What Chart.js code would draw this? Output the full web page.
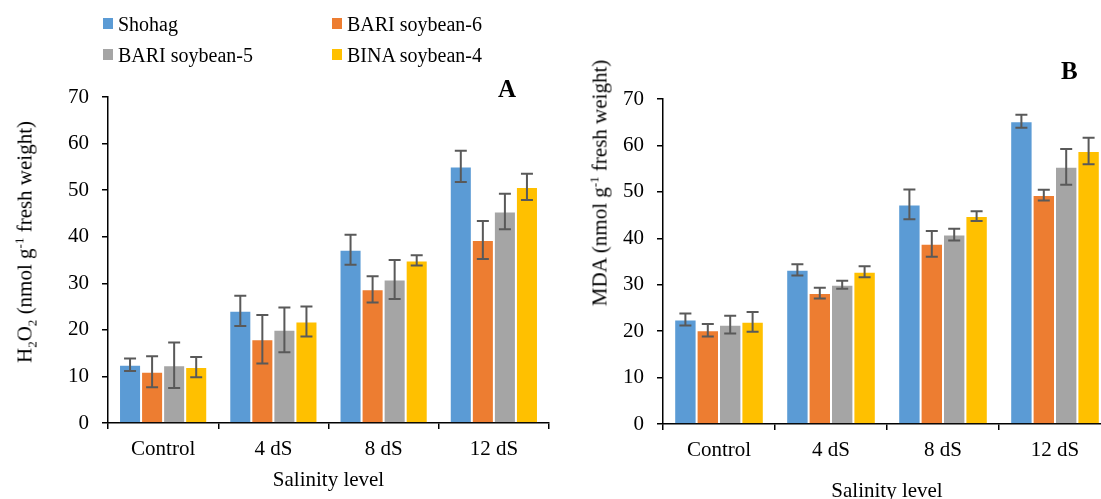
<!DOCTYPE html>
<html>
<head>
<meta charset="utf-8">
<script src="https://cdn.jsdelivr.net/npm/chart.js@4.4.0/dist/chart.umd.min.js"></script>
<style>
  html, body { margin: 0; padding: 0; width: 1101px; height: 499px; overflow: hidden; background: #fff; }
  body { position: relative; font-family: "Liberation Serif", "Times New Roman", serif; color: #000; }
  .panel { position: absolute; top: 0; height: 499px; width: 560px; }
  #panelA { left: 0; }
  #panelB { left: 560px; }
  .ytitle { position: absolute; white-space: nowrap; font-size: 21px; line-height: 21px;
            transform: translate(-50%, -50%) rotate(-90deg); }
  .ytitle sub, .ytitle sup { font-size: 0.62em; line-height: 0; }
  .legend-item { position: absolute; font-size: 20px; line-height: 20px; white-space: nowrap; }
  .legend-box { position: absolute; width: 10px; height: 11px; }
  .tag { position: absolute; font-weight: bold; font-size: 25px; line-height: 25px; }
</style>
</head>
<body>
<div class="panel" id="panelA"><canvas id="chartA"></canvas></div>
<div class="panel" id="panelB"><canvas id="chartB"></canvas></div>
<div id="legend"></div>
<div class="ytitle" style="left:25px; top:242px;">H<sub>2</sub>O<sub>2</sub> (nmol g<sup>-1</sup> fresh weight)</div>
<div class="ytitle" style="left:600px; top:183px;">MDA (nmol g<sup>-1</sup> fresh weight)</div>
<div class="tag" style="left:498px; top:76px;">A</div>
<div class="tag" style="left:1061px; top:58px;">B</div>
<script>
// data
const categories = ['Control', '4 dS', '8 dS', '12 dS'];
const seriesNames = ['Shohag', 'BARI soybean-6', 'BARI soybean-5', 'BINA soybean-4'];
const yTickValues = [0, 10, 20, 30, 40, 50, 60, 70];

// panel A: H2O2
const h2o2Shohag = [12.5, 24.1, 37.2, 55.1];
const h2o2Bari6 = [11.0, 18.0, 28.7, 39.3];
const h2o2Bari5 = [12.4, 20.0, 30.8, 45.4];
const h2o2Bina4 = [12.0, 21.8, 34.9, 50.7];
const h2o2ErrShohag = [1.35, 3.25, 3.2, 3.35];
const h2o2ErrBari6 = [3.35, 5.2, 2.8, 4.1];
const h2o2ErrBari5 = [4.9, 4.8, 4.2, 3.8];
const h2o2ErrBina4 = [2.15, 3.2, 1.1, 2.8];

// panel B: MDA
const mdaShohag = [22.5, 33.2, 47.3, 65.2];
const mdaBari6 = [20.2, 28.2, 38.8, 49.3];
const mdaBari5 = [21.4, 30.0, 40.8, 55.4];
const mdaBina4 = [22.0, 32.8, 44.8, 58.8];
const mdaErrShohag = [1.3, 1.2, 3.2, 1.4];
const mdaErrBari6 = [1.35, 1.15, 2.75, 1.15];
const mdaErrBari5 = [1.9, 0.85, 1.25, 3.85];
const mdaErrBina4 = [2.15, 1.2, 1.05, 2.85];

const seriesColors = ['#5B9BD5', '#ED7D31', '#A5A5A5', '#FFC000'];
const serif = '"Liberation Serif", "Times New Roman", serif';

Chart.defaults.font.family = serif;
Chart.defaults.color = '#000';

// html legend, 2 columns
const legendSpots = [[103, 118, 14], [332, 347, 14], [103, 118, 45], [332, 347, 45]];
const legendEl = document.getElementById('legend');
seriesNames.forEach((name, i) => {
    const [bx, tx, ty] = legendSpots[i];
    const box = document.createElement('div');
    box.className = 'legend-box';
    box.style.cssText = `left:${bx}px; top:${ty + 4}px; background:${seriesColors[i]};`;
    const txt = document.createElement('div');
    txt.className = 'legend-item';
    txt.style.cssText = `left:${tx}px; top:${ty}px;`;
    txt.textContent = name;
    legendEl.appendChild(box);
    legendEl.appendChild(txt);
});

// error bars drawn on top of each bar
const errorBars = {
    id: 'errorBars',
    afterDatasetsDraw(chart) {
        const ctx = chart.ctx;
        const ys = chart.scales.y;
        ctx.save();
        ctx.strokeStyle = '#595959';
        ctx.lineWidth = 2;
        chart.data.datasets.forEach((ds, i) => {
            chart.getDatasetMeta(i).data.forEach((bar, j) => {
                const v = ds.data[j], e = ds.errors[j];
                const top = ys.getPixelForValue(v + e);
                const bot = ys.getPixelForValue(v - e);
                ctx.beginPath();
                ctx.moveTo(bar.x, top); ctx.lineTo(bar.x, bot);
                ctx.moveTo(bar.x - 6, top); ctx.lineTo(bar.x + 6, top);
                ctx.moveTo(bar.x - 6, bot); ctx.lineTo(bar.x + 6, bot);
                ctx.stroke();
            });
        });
        ctx.restore();
    }
};

function makeDatasets(values, errors) {
    return values.map((vals, i) => ({
        label: seriesNames[i],
        data: vals,
        errors: errors[i],
        backgroundColor: seriesColors[i],
        borderColor: 'rgba(255,255,255,0.45)',
        borderWidth: 1,
        categoryPercentage: 0.8,
        barPercentage: 1.0
    }));
}

function makeChart(id, values, errors, cfg) {
    return new Chart(document.getElementById(id), {
        type: 'bar',
        data: { labels: categories, datasets: makeDatasets(values, errors) },
        options: {
            responsive: true,
            maintainAspectRatio: false,
            animation: false,
            layout: { padding: { top: cfg.top, right: cfg.right, bottom: 0, left: 0 } },
            plugins: { legend: { display: false }, tooltip: { enabled: false } },
            scales: {
                x: {
                    grid: { offset: true, drawOnChartArea: false, tickLength: 6, color: '#000', lineWidth: 1.5 },
                    border: { color: '#000', width: 1.5 },
                    ticks: { font: { size: 21 }, padding: 8, color: '#000' },
                    title: {
                        display: true, text: 'Salinity level', color: '#000',
                        font: { size: 21, lineHeight: 1 },
                        padding: { top: 0, bottom: cfg.titlePad }
                    },
                    afterFit: (s) => { s.height = cfg.xHeight; }
                },
                y: {
                    min: 0, max: 70,
                    grid: { drawOnChartArea: false, tickLength: 6, color: '#000', lineWidth: 1.5 },
                    border: { color: '#000', width: 1.5 },
                    ticks: { font: { size: 21 }, padding: 13, color: '#000' },
                    afterBuildTicks: (s) => { s.ticks = yTickValues.map(v => ({ value: v })); },
                    afterFit: (s) => { s.width = cfg.yWidth; }
                }
            }
        },
        plugins: [errorBars]
    });
}

makeChart('chartA',
    [h2o2Shohag, h2o2Bari6, h2o2Bari5, h2o2Bina4],
    [h2o2ErrShohag, h2o2ErrBari6, h2o2ErrBari5, h2o2ErrBina4],
    { top: 97, right: 11, yWidth: 108, xHeight: 76, titlePad: 8 });

makeChart('chartB',
    [mdaShohag, mdaBari6, mdaBari5, mdaBina4],
    [mdaErrShohag, mdaErrBari6, mdaErrBari5, mdaErrBina4],
    { top: 99, right: 9, yWidth: 103, xHeight: 75, titlePad: -3 });
</script>
</body>
</html>
